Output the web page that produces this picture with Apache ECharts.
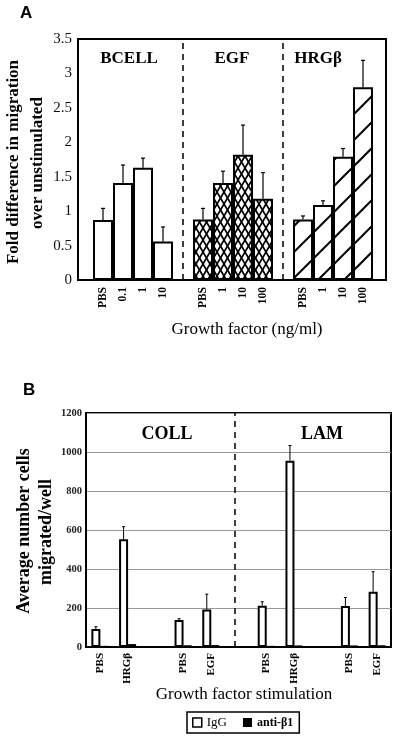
<!DOCTYPE html>
<html>
<head>
<meta charset="utf-8">
<script src="https://cdn.jsdelivr.net/npm/echarts@6/dist/echarts.min.js"></script>
<style>html,body{margin:0;padding:0;background:#fff}#c{width:400px;height:737px}</style>
</head>
<body>
<div id="c"></div>
<script>
// ---- Panel A data ----
const catsA = ['PBS','0.1','1','10','','PBS','1','10','100','','PBS','1','10','100'];
const valsA = [0.87,1.41,1.63,0.56,'-',0.88,1.41,1.82,1.18,'-',0.88,1.09,1.79,2.80];
const errA  = [1.04,1.67,1.77,0.77,'-',1.04,1.58,2.25,1.56,'-',0.93,1.15,1.91,3.19];
const patternA = ['plain','plain','plain','plain','','cross','cross','cross','cross','','diag','diag','diag','diag'];
const groupsA = ['BCELL','EGF','HRGβ'];
const yMinA = 0, yMaxA = 3.5, yStepA = 0.5;

// ---- Panel B data ----
const catsB = ['PBS','HRGβ','','PBS','EGF','','PBS','HRGβ','','PBS','EGF'];
const iggB    = [92,552,'-',138,192,'-',212,955,'-',210,283];
const iggErrB = [104,617,'-',145,271,'-',232,1033,'-',254,386];
const antiB   = [6,15,'-',9,10,'-',6,8,'-',8,9];
const groupsB = ['COLL','LAM'];
const yMinB = 0, yMaxB = 1200, yStepB = 200;

const SERIF = "'Liberation Serif','Times New Roman',serif";
const SANS = "'Liberation Sans',Arial,sans-serif";

function makeCross(){
  const w = 7, h = 12;
  const c = document.createElement('canvas'); c.width = w; c.height = h;
  const g = c.getContext('2d');
  g.fillStyle = '#fff'; g.fillRect(0,0,w,h);
  g.strokeStyle = '#000'; g.lineWidth = 1.7;
  for (let k = -1; k <= 1; k++) {
    g.beginPath(); g.moveTo(k*w, 0); g.lineTo(k*w + w, h); g.stroke();
    g.beginPath(); g.moveTo(k*w + w, 0); g.lineTo(k*w, h); g.stroke();
  }
  return c;
}
function makeDiag(){
  const s = 26;
  const c = document.createElement('canvas'); c.width = s; c.height = s;
  const g = c.getContext('2d');
  g.fillStyle = '#fff'; g.fillRect(0,0,s,s);
  g.strokeStyle = '#000'; g.lineWidth = 2;
  for (let k = 0; k <= 2; k++) {
    g.beginPath(); g.moveTo(-2, k*s + 2); g.lineTo(k*s + 2, -2); g.stroke();
  }
  return c;
}
const crossPat = {image: makeCross(), repeat: 'repeat'};
const diagPat = {image: makeDiag(), repeat: 'repeat'};

const barDataA = valsA.map((v, i) => {
  if (v === '-') return '-';
  let color = '#fff';
  if (patternA[i] === 'cross') color = crossPat;
  if (patternA[i] === 'diag') color = diagPat;
  return {value: v, itemStyle: {color: color, borderColor: '#000', borderWidth: 2}};
});
const errDataA = [];
valsA.forEach((v, i) => { if (v !== '-') errDataA.push([i, v, errA[i]]); });
const errDataB = [];
iggB.forEach((v, i) => { if (v !== '-') errDataB.push([i, v, iggErrB[i]]); });

function errRender(offset, cap, lw) {
  return function(params, api) {
    const x = api.value(0);
    const p1 = api.coord([x, api.value(1)]);
    const p2 = api.coord([x, api.value(2)]);
    const cx = p1[0] + offset;
    return {
      type: 'group',
      children: [
        {type: 'line', shape: {x1: cx, y1: p1[1], x2: cx, y2: p2[1]}, style: {stroke: '#000', lineWidth: lw}},
        {type: 'line', shape: {x1: cx - cap, y1: p2[1], x2: cx + cap, y2: p2[1]}, style: {stroke: '#000', lineWidth: lw}}
      ]
    };
  };
}

const dash = {type: [6, 5], color: '#000', width: 1.5};

const option = {
  animation: false,
  backgroundColor: '#fff',
  grid: [
    {left: 78, top: 39, width: 308, height: 241, show: true, borderColor: '#000', borderWidth: 2, backgroundColor: 'transparent'},
    {left: 93, top: 39, width: 280, height: 241},
    {left: 86, top: 413, width: 305, height: 234, show: true, borderColor: '#000', borderWidth: 2, backgroundColor: 'transparent'}
  ],
  xAxis: [
    {gridIndex: 0, type: 'value', show: false, min: 0, max: 1},
    {gridIndex: 1, type: 'category', data: catsA, axisLine: {show: false}, axisTick: {show: false},
     axisLabel: {rotate: 90, interval: 0, margin: 7, fontFamily: SERIF, fontWeight: 'bold', fontSize: 11.5, color: '#000'}},
    {gridIndex: 2, type: 'category', data: catsB, axisLine: {show: true, lineStyle: {color: '#000', width: 2}}, axisTick: {show: false},
     axisLabel: {rotate: 90, interval: 0, margin: 6, fontFamily: SERIF, fontWeight: 'bold', fontSize: 11, color: '#000'}}
  ],
  yAxis: [
    {gridIndex: 0, type: 'value', min: yMinA, max: yMaxA, interval: yStepA,
     axisLine: {show: true, lineStyle: {color: '#000', width: 2}}, axisTick: {show: false}, splitLine: {show: false},
     axisLabel: {margin: 6, fontFamily: SERIF, fontSize: 15, color: '#111'}},
    {gridIndex: 1, type: 'value', min: yMinA, max: yMaxA, show: false, splitLine: {show: false}},
    {gridIndex: 2, type: 'value', min: yMinB, max: yMaxB, interval: yStepB,
     axisLine: {show: true, lineStyle: {color: '#000', width: 2}}, axisTick: {show: false},
     splitLine: {show: true, lineStyle: {color: '#999', width: 1}},
     axisLabel: {margin: 4, fontFamily: SERIF, fontSize: 10.5, fontWeight: 'bold', color: '#222', formatter: function(v){ return String(v); }}}
  ],
  legend: {
    left: 187, top: 712, orient: 'horizontal',
    borderColor: '#000', borderWidth: 1.5, padding: [4, 6, 4, 5], itemGap: 16,
    itemWidth: 9, itemHeight: 9, icon: 'rect',
    textStyle: {fontFamily: SERIF, fontSize: 13, color: '#000', rich: {b: {fontFamily: SERIF, fontSize: 12, fontWeight: 'bold', color: '#000'}}},
    formatter: function(n){ return n === 'anti-β1' ? '{b|' + n + '}' : n; },
    data: [
      {name: 'IgG', itemStyle: {color: '#fff', borderColor: '#000', borderWidth: 1.5}},
      {name: 'anti-β1', itemStyle: {color: '#000'}}
    ]
  },
  series: [
    {type: 'bar', xAxisIndex: 1, yAxisIndex: 1, data: barDataA, barWidth: 20, barCategoryGap: '0%',
     markLine: {silent: true, symbol: ['none', 'none'], label: {show: false}, lineStyle: dash,
       data: [{xAxis: 4}, {xAxis: 9}]}},
    {type: 'custom', xAxisIndex: 1, yAxisIndex: 1, data: errDataA, renderItem: errRender(0, 2, 1.2), z: 5},
    {name: 'IgG', type: 'bar', xAxisIndex: 2, yAxisIndex: 2, data: iggB, barWidth: 9, barGap: '0%',
     itemStyle: {color: '#fff', borderColor: '#000', borderWidth: 2},
     markLine: {silent: true, symbol: ['none', 'none'], label: {show: false}, lineStyle: dash, data: [{xAxis: 5}]}},
    {name: 'anti-β1', type: 'bar', xAxisIndex: 2, yAxisIndex: 2, data: antiB, barWidth: 8, barGap: '0%',
     itemStyle: {color: '#000'}},
    {type: 'custom', xAxisIndex: 2, yAxisIndex: 2, data: errDataB, renderItem: errRender(-4, 1.5, 1), z: 5}
  ],
  graphic: [
    {type: 'text', left: 20, top: 5, style: {text: 'A', font: 'bold 17px ' + SANS, fill: '#000'}},
    {type: 'text', left: 23, top: 382, style: {text: 'B', font: 'bold 17px ' + SANS, fill: '#000'}},
    {type: 'text', x: 129, y: 59, style: {text: groupsA[0], font: 'bold 17px ' + SERIF, fill: '#000', align: 'center', verticalAlign: 'middle'}},
    {type: 'text', x: 232, y: 59, style: {text: groupsA[1], font: 'bold 17px ' + SERIF, fill: '#000', align: 'center', verticalAlign: 'middle'}},
    {type: 'text', x: 318, y: 59, style: {text: groupsA[2], font: 'bold 17px ' + SERIF, fill: '#000', align: 'center', verticalAlign: 'middle'}},
    {type: 'text', x: 167, y: 434, style: {text: groupsB[0], font: 'bold 18px ' + SERIF, fill: '#000', align: 'center', verticalAlign: 'middle'}},
    {type: 'text', x: 322, y: 434, style: {text: groupsB[1], font: 'bold 18px ' + SERIF, fill: '#000', align: 'center', verticalAlign: 'middle'}},
    {type: 'text', x: 247, y: 330, style: {text: 'Growth factor (ng/ml)', font: '17px ' + SERIF, fill: '#000', align: 'center', verticalAlign: 'middle'}},
    {type: 'text', x: 244, y: 695, style: {text: 'Growth factor stimulation', font: '17px ' + SERIF, fill: '#000', align: 'center', verticalAlign: 'middle'}},
    {type: 'text', x: 14, y: 162, rotation: Math.PI / 2, style: {text: 'Fold difference in migration', font: 'bold 17px ' + SERIF, fill: '#000', align: 'center', verticalAlign: 'middle'}},
    {type: 'text', x: 38, y: 163, rotation: Math.PI / 2, style: {text: 'over unstimulated', font: 'bold 17px ' + SERIF, fill: '#000', align: 'center', verticalAlign: 'middle'}},
    {type: 'text', x: 24, y: 531, rotation: Math.PI / 2, style: {text: 'Average number cells', font: 'bold 18px ' + SERIF, fill: '#000', align: 'center', verticalAlign: 'middle'}},
    {type: 'text', x: 46, y: 532, rotation: Math.PI / 2, style: {text: 'migrated/well', font: 'bold 18px ' + SERIF, fill: '#000', align: 'center', verticalAlign: 'middle'}}
  ]
};

const chart = echarts.init(document.getElementById('c'), null, {renderer: 'canvas'});
chart.setOption(option);
</script>
</body>
</html>
